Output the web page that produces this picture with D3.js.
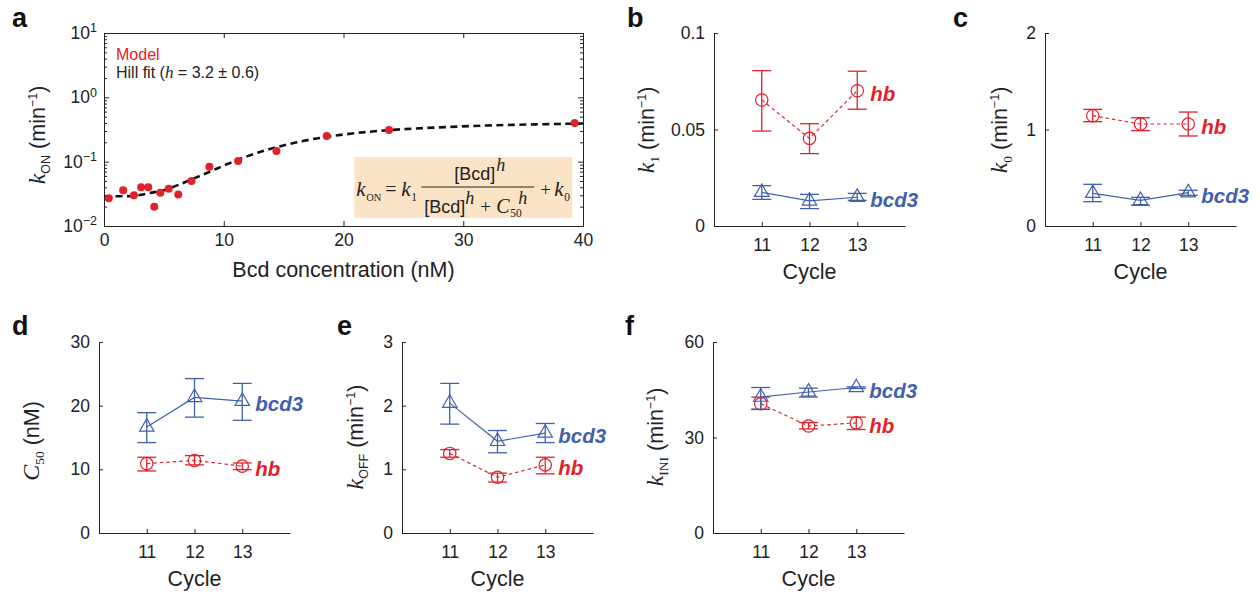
<!DOCTYPE html>
<html>
<head>
<meta charset="utf-8">
<script src="https://cdn.jsdelivr.net/npm/d3@7"></script>
<style>
body { margin: 0; background: #fff; }
svg { display: block; font-family: "Liberation Sans", Arial, Helvetica, sans-serif; }
.axis path, .axis line { stroke: #222; stroke-width: 1; }
.axis text { fill: #222; font-size: 17.5px; font-family: "Liberation Sans", Arial, sans-serif; }
.serif { font-family: "Liberation Serif", "Times New Roman", serif; }
</style>
</head>
<body>
<div id="chart"></div>
<script>
// panel a: model k_ON vs Bcd concentration
var bcdConc  = [0.4, 1.6, 2.5, 3.1, 3.7, 4.2, 4.7, 5.4, 6.2, 7.3, 8.8, 11.2, 14.4, 18.6, 23.8, 39.3];
var konModel = [0.027, 0.036, 0.030, 0.040, 0.040, 0.020, 0.033, 0.038, 0.031, 0.050, 0.083, 0.102, 0.147, 0.25, 0.31, 0.40];
// dashed Hill fit
var fitConc = [0, 2, 4, 5, 6, 7, 8, 9, 10, 12, 14, 16, 18, 20, 22, 25, 28, 32, 36, 40];
var fitKon  = [0.029, 0.029, 0.033, 0.036, 0.042, 0.050, 0.060, 0.072, 0.087, 0.122, 0.160, 0.198, 0.234, 0.264, 0.290, 0.320, 0.341, 0.365, 0.380, 0.392];
var xTicksA = [0, 10, 20, 30, 40];
var yTicksA = [0.01, 0.1, 1, 10];

// panels b-f: fitted parameters per cycle
var cycles = [11, 12, 13];
var k1Hb = [0.0653, 0.0454, 0.0701];
var k1HbErr = [[0.0492, 0.0805], [0.0375, 0.053], [0.0605, 0.0802]];
var k1Bcd = [0.0175, 0.013, 0.0149];
var k1BcdErr = [[0.0138, 0.0209], [0.009, 0.0164], [0.0133, 0.0169]];

var k0Hb = [1.143, 1.057, 1.057];
var k0HbErr = [[1.081, 1.209], [0.988, 1.122], [0.933, 1.181]];
var k0Bcd = [0.339, 0.266, 0.345];
var k0BcdErr = [[0.252, 0.432], [0.214, 0.297], [0.318, 0.37]];

var c50Hb = [10.9, 11.4, 10.5];
var c50HbErr = [[9.74, 11.9], [10.7, 12.15], [9.96, 11.0]];
var c50Bcd = [16.65, 21.3, 20.7];
var c50BcdErr = [[14.2, 18.9], [18.2, 24.25], [17.7, 23.5]];

var koffHb = [1.25, 0.875, 1.07];
var koffHbErr = [[1.19, 1.31], [0.80, 0.94], [0.93, 1.19]];
var koffBcd = [2.04, 1.44, 1.57];
var koffBcdErr = [[1.71, 2.35], [1.26, 1.61], [1.42, 1.72]];

var kiniHb = [40.6, 33.6, 34.6];
var kiniHbErr = [[38.8, 42.7], [32.7, 34.7], [32.5, 36.4]];
var kiniBcd = [42.7, 44.3, 45.7];
var kiniBcdErr = [[38.9, 45.7], [42.7, 45.5], [45.4, 45.9]];

var red = "#e3212b", blue = "#4160ad", ink = "#222";

var svg = d3.select("#chart").append("svg")
  .attr("width", 1260)
  .attr("height", 594);

function letter(x, y, s) {
  svg.append("text").attr("x", x).attr("y", y)
    .attr("font-size", "27px").attr("font-weight", "bold").attr("fill", "#111")
    .text(s);
}

// rotated y label made of pieces: k = italic serif, sub = serif subscript,
// subs = sans subscript, sup = superscript, n = normal
function yLabel(cx, cy, parts) {
  var t = svg.append("text")
    .attr("transform", "translate(" + cx + "," + cy + ") rotate(-90)")
    .attr("text-anchor", "middle").attr("fill", ink);
  var shift = 0;
  parts.forEach(function(p) {
    var s = t.append("tspan").text(p[0]), target = 0;
    if (p[1] == "k") s.attr("class", "serif").attr("font-style", "italic").attr("font-size", "24px");
    else if (p[1] == "sub") { s.attr("class", "serif").attr("font-size", "13.5px"); target = 5; }
    else if (p[1] == "subs") { s.attr("font-size", "12.5px"); target = 5; }
    else if (p[1] == "sup") { s.attr("font-size", "12.5px"); target = -8; }
    else s.attr("font-size", "21.5px");
    if (target != shift) { s.attr("dy", target - shift); shift = target; }
  });
}

// ---------- panel a ----------
var aL = 104, aR = 583, aT = 33, aB = 226;
var xA = d3.scaleLinear().domain([0, 40]).range([aL, aR]);
var yA = d3.scaleLog().domain([0.01, 10]).range([aB, aT]);
var minorA = [];
[0.01, 0.1, 1].forEach(function(d) { for (var i = 2; i < 10; i++) minorA.push(d * i); });

var ga = svg.append("g");
ga.append("g").attr("class", "axis").attr("transform", "translate(0," + aB + ")")
  .call(d3.axisBottom(xA).tickValues(xTicksA).tickSize(-5).tickSizeOuter(0).tickPadding(8).tickFormat(d3.format("d")))
  .selectAll("text").attr("font-size", "18.5px");
ga.append("g").attr("class", "axis").attr("transform", "translate(0," + aT + ")")
  .call(d3.axisTop(xA).tickValues(xTicksA).tickSize(-5).tickSizeOuter(0).tickFormat(""));
ga.append("g").attr("class", "axis").attr("transform", "translate(" + aL + ",0)")
  .call(d3.axisLeft(yA).tickValues(minorA).tickSize(-3).tickSizeOuter(0).tickFormat(""));
ga.append("g").attr("class", "axis").attr("transform", "translate(" + aR + ",0)")
  .call(d3.axisRight(yA).tickValues(minorA).tickSize(-3).tickSizeOuter(0).tickFormat(""));
ga.append("g").attr("class", "axis").attr("transform", "translate(" + aR + ",0)")
  .call(d3.axisRight(yA).tickValues(yTicksA).tickSize(-5).tickSizeOuter(0).tickFormat(""));
var yAxA = ga.append("g").attr("class", "axis").attr("transform", "translate(" + aL + ",0)")
  .call(d3.axisLeft(yA).tickValues(yTicksA).tickSize(-5).tickSizeOuter(0).tickPadding(7).tickFormat(function() { return ""; }));
yAxA.selectAll(".tick text").each(function(d) {
  var e = Math.round(Math.log10(d)), t = d3.select(this);
  t.attr("font-size", "18.5px").text("10");
  t.append("tspan").attr("dy", "-0.55em").attr("font-size", "12.5px").text(e < 0 ? "\u2212" + (-e) : e);
});

// formula box
var bx = xA(20.9), by = 157;
ga.append("rect").attr("x", bx).attr("y", by).attr("width", xA(39.1) - bx).attr("height", 61).attr("fill", "#fbe4c6");
var fx = ga.append("g").attr("transform", "translate(" + bx + "," + by + ")").attr("fill", ink);
function ft(x, y, s, size, cls, italic) {
  var t = fx.append("text").attr("x", x).attr("y", y).attr("font-size", size + "px").text(s);
  if (cls) t.attr("class", cls);
  if (italic) t.attr("font-style", "italic");
}
ft(2, 39, "k", 21, "serif", true);
ft(12, 44, "ON", 10.5, "serif");
ft(31, 39, "=", 20, "serif");
ft(47, 39, "k", 21, "serif", true);
ft(57, 44, "1", 11.5, "serif");
fx.append("line").attr("x1", 67).attr("x2", 180).attr("y1", 30).attr("y2", 30).attr("stroke", ink).attr("stroke-width", 1.2);
ft(100, 23, "[Bcd]", 18);
ft(142, 14, "h", 18, "serif", true);
ft(70, 56, "[Bcd]", 18);
ft(111, 47, "h", 18, "serif", true);
ft(126, 56, "+", 19, "serif");
ft(142, 56, "C", 20, "serif", true);
ft(156, 60, "50", 11.5, "serif");
ft(164, 47, "h", 18, "serif", true);
ft(186, 39, "+", 19, "serif");
ft(200, 39, "k", 21, "serif", true);
ft(210, 44, "0", 11.5, "serif");

// fit and model points
ga.append("path")
  .datum(fitConc.map(function(c, i) { return [c, fitKon[i]]; }))
  .attr("fill", "none").attr("stroke", "#111").attr("stroke-width", 2.6).attr("stroke-dasharray", "7,4.5")
  .attr("d", d3.line().x(function(d) { return xA(d[0]); }).y(function(d) { return yA(d[1]); }).curve(d3.curveMonotoneX));
ga.selectAll("circle.pt")
  .data(bcdConc.map(function(c, i) { return [c, konModel[i]]; }))
  .enter().append("circle").attr("class", "pt")
  .attr("cx", function(d) { return xA(d[0]); })
  .attr("cy", function(d) { return yA(d[1]); })
  .attr("r", 4).attr("fill", red);

ga.append("text").attr("x", 116).attr("y", 60).attr("font-size", "16px").attr("fill", red).text("Model");
var hill = ga.append("text").attr("x", 116).attr("y", 78).attr("font-size", "16px").attr("fill", ink);
hill.append("tspan").text("Hill fit (");
hill.append("tspan").attr("class", "serif").attr("font-style", "italic").attr("font-size", "17px").text("h");
hill.append("tspan").text(" = 3.2 \u00b1 0.6)");

ga.append("text").attr("x", (aL + aR) / 2).attr("y", 277).attr("text-anchor", "middle")
  .attr("font-size", "21.5px").attr("fill", ink).text("Bcd concentration (nM)");
yLabel(45, 135, [["k", "k"], ["ON", "subs"], [" (min", "n"], ["\u22121", "sup"], [")", "n"]]);
letter(12, 27, "a");

// ---------- panels b-f ----------
function drawSeries(g, x, y, vals, errs, color, dashed, marker) {
  var pts = cycles.map(function(c, i) { return { c: c, v: vals[i], lo: errs[i][0], hi: errs[i][1] }; });
  var eb = g.append("g").attr("stroke", color).attr("stroke-width", 1.3);
  pts.forEach(function(p) {
    eb.append("line").attr("x1", x(p.c)).attr("x2", x(p.c)).attr("y1", y(p.lo)).attr("y2", y(p.hi));
    eb.append("line").attr("x1", x(p.c) - 9.5).attr("x2", x(p.c) + 9.5).attr("y1", y(p.lo)).attr("y2", y(p.lo));
    eb.append("line").attr("x1", x(p.c) - 9.5).attr("x2", x(p.c) + 9.5).attr("y1", y(p.hi)).attr("y2", y(p.hi));
  });
  g.append("path").datum(pts)
    .attr("fill", "none").attr("stroke", color).attr("stroke-width", 1.2)
    .attr("stroke-dasharray", dashed ? "3.5,3" : null)
    .attr("d", d3.line().x(function(d) { return x(d.c); }).y(function(d) { return y(d.v); }));
  var sym = d3.symbol().type(marker == "circle" ? d3.symbolCircle : d3.symbolTriangle).size(marker == "circle" ? 120 : 90);
  g.selectAll(null).data(pts).enter().append("path")
    .attr("transform", function(d) { return "translate(" + x(d.c) + "," + y(d.v) + ")"; })
    .attr("d", sym).attr("fill", "none").attr("stroke", color).attr("stroke-width", 1.2);
}

function cyclePanel(o) {
  var g = svg.append("g");
  var x = d3.scaleLinear().domain([10, 14]).range([o.left, o.left + 191]);
  var y = d3.scaleLinear().domain([0, o.yMax]).range([o.bottom, o.top]);
  g.append("g").attr("class", "axis").attr("transform", "translate(0," + o.bottom + ")")
    .call(d3.axisBottom(x).tickValues(cycles).tickSize(-4).tickSizeOuter(0).tickPadding(13).tickFormat(d3.format("d")));
  g.append("g").attr("class", "axis").attr("transform", "translate(" + o.left + ",0)")
    .call(d3.axisLeft(y).tickValues(o.yTicks).tickSize(-4).tickSizeOuter(0).tickPadding(9).tickFormat(o.fmt || d3.format("d")));
  drawSeries(g, x, y, o.hb, o.hbErr, red, true, "circle");
  drawSeries(g, x, y, o.bcd, o.bcdErr, blue, false, "triangle");
  [[o.hb, "hb", red], [o.bcd, "bcd3", blue]].forEach(function(s) {
    g.append("text").attr("x", x(13) + 13).attr("y", y(s[0][2]) + 2.5)
      .attr("dominant-baseline", "central").attr("font-size", "20.5px")
      .attr("font-weight", "bold").attr("font-style", "italic").attr("fill", s[2]).text(s[1]);
  });
  g.append("text").attr("x", x(12)).attr("y", o.bottom + 53).attr("text-anchor", "middle")
    .attr("font-size", "21.5px").attr("fill", ink).text("Cycle");
  yLabel(o.labelX, o.labelY, o.label);
}

var kUnit = [[" (min", "n"], ["\u22121", "sup"], [")", "n"]];

cyclePanel({ left: 714, top: 33, bottom: 226, yMax: 0.1, yTicks: [0, 0.05, 0.1],
  fmt: function(d) { return d === 0 ? "0" : String(d); },
  hb: k1Hb, hbErr: k1HbErr, bcd: k1Bcd, bcdErr: k1BcdErr,
  labelX: 654, labelY: 130, label: [["k", "k"], ["1", "sub"]].concat(kUnit) });
letter(627, 27, "b");

cyclePanel({ left: 1045, top: 33, bottom: 226, yMax: 2, yTicks: [0, 1, 2],
  hb: k0Hb, hbErr: k0HbErr, bcd: k0Bcd, bcdErr: k0BcdErr,
  labelX: 1007, labelY: 130, label: [["k", "k"], ["0", "sub"]].concat(kUnit) });
letter(953, 27, "c");

cyclePanel({ left: 99, top: 342, bottom: 533, yMax: 30, yTicks: [0, 10, 20, 30],
  hb: c50Hb, hbErr: c50HbErr, bcd: c50Bcd, bcdErr: c50BcdErr,
  labelX: 39, labelY: 441, label: [["C", "k"], ["50", "sub"], [" (nM)", "n"]] });
letter(12, 335, "d");

cyclePanel({ left: 402, top: 342, bottom: 533, yMax: 3, yTicks: [0, 1, 2, 3],
  hb: koffHb, hbErr: koffHbErr, bcd: koffBcd, bcdErr: koffBcdErr,
  labelX: 363, labelY: 437, label: [["k", "k"], ["OFF", "subs"]].concat(kUnit) });
letter(337, 335, "e");

cyclePanel({ left: 713, top: 342, bottom: 533, yMax: 60, yTicks: [0, 30, 60],
  hb: kiniHb, hbErr: kiniHbErr, bcd: kiniBcd, bcdErr: kiniBcdErr,
  labelX: 663, labelY: 437, label: [["k", "k"], ["INI", "sub"]].concat(kUnit) });
letter(625, 335, "f");
</script>
</body>
</html>
